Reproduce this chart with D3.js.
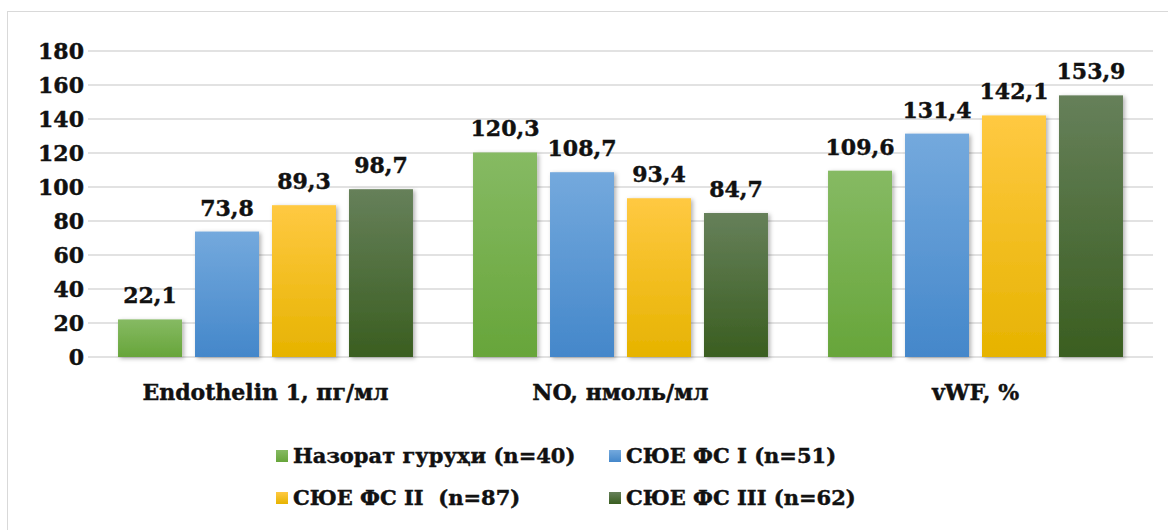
<!DOCTYPE html>
<html>
<head>
<meta charset="utf-8">
<script src="https://cdn.jsdelivr.net/npm/d3@7/dist/d3.min.js"></script>
<style>
  html, body { margin: 0; padding: 0; background: #ffffff; }
  svg text { font-family: "DejaVu Serif", "Liberation Serif", serif; font-weight: bold; fill: #111;
             stroke: #111; stroke-width: 0.45px; }
</style>
</head>
<body>
<svg id="chart" width="1168" height="530"></svg>
<script>
// Indicator groups
const categories = ["Endothelin 1, пг/мл", "NO, нмоль/мл", "vWF, %"];
const seriesNames = ["Назорат гуруҳи (n=40)", "СЮЕ ФС I (n=51)", "СЮЕ ФС II  (n=87)", "СЮЕ ФС III (n=62)"];
const control   = [22.1, 120.3, 109.6];
const fs1       = [73.8, 108.7, 131.4];
const fs2       = [89.3, 93.4, 142.1];
const fs3       = [98.7, 84.7, 153.9];
const yTicks    = [0, 20, 40, 60, 80, 100, 120, 140, 160, 180];

const seriesValues = [control, fs1, fs2, fs3];
// gradient stops per series: [top, bottom]
const seriesColors = [
  ["#86ba63", "#67a53a"],
  ["#74a9dd", "#4487ca"],
  ["#ffc942", "#e6b300"],
  ["#66805a", "#3a5e20"]
];

const svg = d3.select("#chart");
const plot = { left: 88, right: 1153, top: 51, bottom: 357 };

const defs = svg.append("defs");
seriesColors.forEach((c, i) => {
  const g = defs.append("linearGradient").attr("id", "grad" + i)
    .attr("x1", 0).attr("y1", 0).attr("x2", 0).attr("y2", 1);
  g.append("stop").attr("offset", "0%").attr("stop-color", c[0]);
  g.append("stop").attr("offset", "100%").attr("stop-color", c[1]);
});
const f = defs.append("filter").attr("id", "shadow")
  .attr("x", "-20%").attr("y", "-20%").attr("width", "150%").attr("height", "150%");
f.append("feDropShadow").attr("dx", 2).attr("dy", 1.5).attr("stdDeviation", 2)
  .attr("flood-color", "#000").attr("flood-opacity", 0.3);

// chart frame
svg.append("rect").attr("x", 7.5).attr("y", 11.5).attr("width", 1300).attr("height", 700)
  .attr("fill", "#ffffff").attr("stroke", "#d9d9d9").attr("stroke-width", 1);

const x0 = d3.scaleBand().domain(categories).range([plot.left, plot.right]).padding(0);
const x1 = d3.scaleBand().domain(seriesNames).range([0, x0.bandwidth()])
  .paddingInner(13 / 77).paddingOuter(0.39);
const y = d3.scaleLinear().domain([0, 180]).range([plot.bottom, plot.top]);

// gridlines
svg.append("g").selectAll("line").data(yTicks).join("line")
  .attr("x1", plot.left).attr("x2", plot.right)
  .attr("y1", d => y(d)).attr("y2", d => y(d))
  .attr("stroke", "#d9d9d9").attr("stroke-width", 1.6);

// y axis labels
const yAxis = d3.axisLeft(y).tickValues(yTicks).tickSize(0).tickPadding(4)
  .tickFormat(d3.format("d"));
const ya = svg.append("g").attr("transform", `translate(${plot.left},0)`).call(yAxis);
ya.select(".domain").remove();
ya.selectAll("text").attr("font-size", 22).attr("font-family", null).attr("fill", "#111");

// bars
const groups = svg.append("g").selectAll("g").data(categories).join("g")
  .attr("transform", d => `translate(${x0(d)},0)`);

const fmt = v => v.toFixed(1).replace(".", ",");

groups.each(function(cat, ci) {
  const g = d3.select(this);
  const rows = seriesNames.map((s, si) => ({ s, si, v: seriesValues[si][ci] }));
  g.selectAll("rect").data(rows).join("rect")
    .attr("x", d => x1(d.s))
    .attr("width", x1.bandwidth())
    .attr("y", d => y(d.v))
    .attr("height", d => y(0) - y(d.v))
    .attr("fill", d => `url(#grad${d.si})`)
    .attr("filter", "url(#shadow)");
  g.selectAll("text.val").data(rows).join("text").attr("class", "val")
    .attr("x", d => x1(d.s) + x1.bandwidth() / 2)
    .attr("y", d => y(d.v) - 16)
    .attr("text-anchor", "middle")
    .attr("font-size", 22)
    .text(d => fmt(d.v));
});

// category labels
svg.append("g").selectAll("text").data(categories).join("text")
  .attr("x", d => x0(d) + x0.bandwidth() / 2)
  .attr("y", 400)
  .attr("text-anchor", "middle")
  .attr("font-size", 22)
  .text(d => d);

// legend
const legendPos = [[276, 456], [609, 456], [276, 498], [609, 498]];
const leg = svg.append("g").selectAll("g").data(seriesNames).join("g")
  .attr("transform", (d, i) => `translate(${legendPos[i][0]},${legendPos[i][1]})`);
leg.append("rect").attr("x", 0).attr("y", -6).attr("width", 12).attr("height", 12)
  .attr("fill", (d, i) => `url(#grad${i})`);
leg.append("text").attr("x", 17).attr("y", 7).attr("font-size", 21)
  .attr("xml:space", "preserve").text(d => d);
</script>
</body>
</html>
